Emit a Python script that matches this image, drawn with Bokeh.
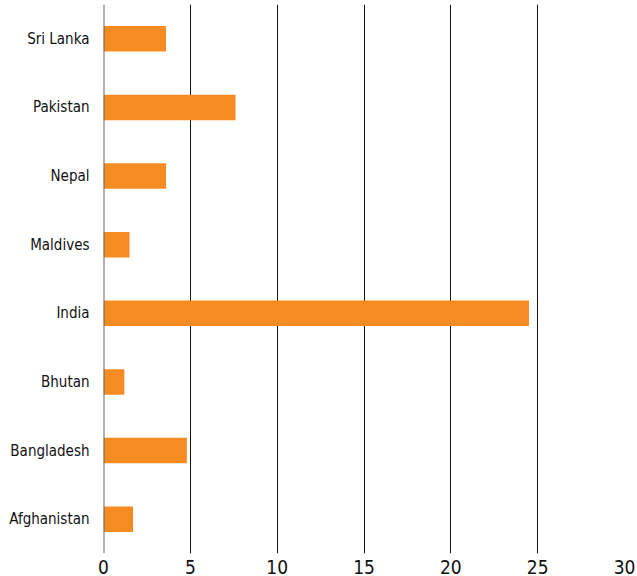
from bokeh.plotting import figure
from bokeh.models import ColumnDataSource, FixedTicker, Span
from bokeh.embed import file_html
from bokeh.resources import INLINE

countries = ["Afghanistan", "Bangladesh", "Bhutan", "India", "Maldives", "Nepal", "Pakistan", "Sri Lanka"]
values = [1.7, 4.8, 1.2, 24.5, 1.5, 3.6, 7.6, 3.6]
x_ticks = [0, 5, 10, 15, 20, 25, 30]

FONT = "DejaVu Sans Condensed"

src = ColumnDataSource(dict(country=countries, value=values))

p = figure(y_range=countries, x_range=(0, 30), output_backend="svg", toolbar_location=None,
           frame_width=521, frame_height=549, min_border_left=103, min_border_right=13,
           min_border_top=4, min_border_bottom=20)
p.outline_line_color = None
p.background_fill_color = "white"

p.hbar(y="country", right="value", left=0, height=0.37, source=src,
       fill_color="#F68B21", line_color=None)

p.xaxis.ticker = FixedTicker(ticks=x_ticks)
p.xgrid.ticker = FixedTicker(ticks=x_ticks)
p.xgrid.grid_line_color = "#111111"
p.xgrid.grid_line_width = 1
p.ygrid.grid_line_color = None

zero = Span(location=0, dimension="height", line_color="#666666", line_width=2)
p.add_layout(zero)

for ax in (p.xaxis, p.yaxis):
    ax.axis_line_color = None
    ax.major_tick_line_color = None
    ax.minor_tick_line_color = None
    ax.major_label_text_font = FONT
    ax.major_label_text_color = "#111111"

p.xaxis.major_label_text_font_size = "19px"
p.xaxis.major_label_standoff = 0
p.yaxis.major_label_text_font_size = "15px"
p.yaxis.major_label_standoff = 8

open("out.html", "w").write(file_html(p, INLINE))
